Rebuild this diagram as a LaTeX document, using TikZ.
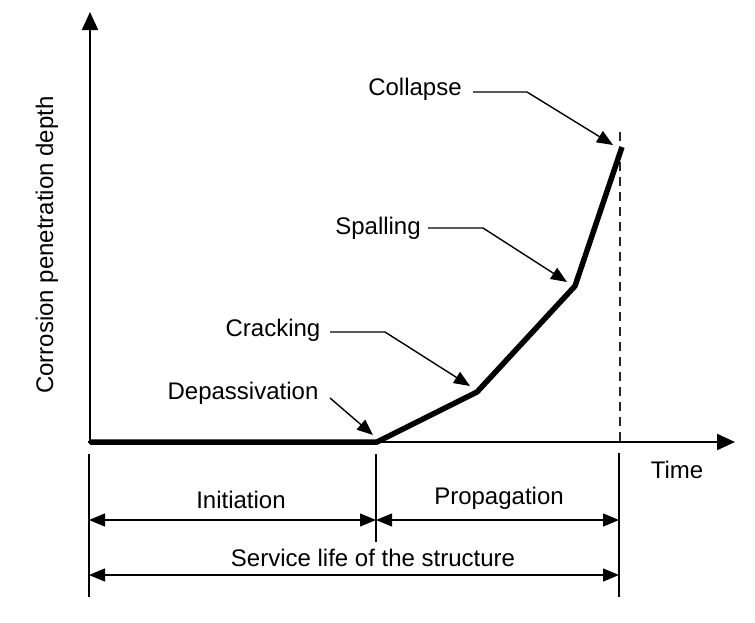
\documentclass[tikz,border=0pt]{standalone}
\usepackage{fontspec}
\setmainfont{Liberation Sans}
\usetikzlibrary{arrows.meta}
\begin{document}
\begin{tikzpicture}[x=1pt,y=-1pt,
  font=\fontsize{24}{28}\selectfont,
  axisline/.style={line width=2.2pt,-{Triangle[length=18pt,width=16pt]}},
  curveline/.style={line width=5.5pt,line join=miter},
  leader/.style={line width=1.4pt,-{Triangle[length=16pt,width=13pt]}},
  dimline/.style={line width=1.2pt,{Triangle[length=16pt,width=13pt]}-{Triangle[length=16pt,width=13pt]}},
  tickline/.style={line width=1.4pt},
  lbl/.style={inner sep=0pt,anchor=center}]
\useasboundingbox (0,0) rectangle (755,622);
% key points
\coordinate (O) at (90,442);
\coordinate (ytip) at (90,12);
\coordinate (xstart) at (88,442);
\coordinate (xtip) at (735,442);
\coordinate (D) at (377,442);
\coordinate (C) at (477,392);
\coordinate (S) at (575,286);
\coordinate (E) at (622,147);
% dashed line at collapse
\coordinate (dtop) at (620,132);
\coordinate (dbot) at (620,442);
% axes
\draw[axisline] (90,444) -- (ytip);
\draw[axisline] (xstart) -- (xtip);
\draw[line width=1.3pt,dash pattern=on 9pt off 6pt,black!85] (dtop) -- (dbot);
% curve
\draw[curveline] (O) -- (D) -- (C) -- (S) -- (E);
% labels
\node[lbl] (ylab) at (47,245) [rotate=90] {Corrosion penetration depth};
\node[lbl] (time) at (677,470) {Time};
\node[lbl] (collapse) at (415,89) {Collapse};
\node[lbl] (spalling) at (378,228) {Spalling};
\node[lbl] (cracking) at (273,330) {Cracking};
\node[lbl] (depass) at (243,393) {Depassivation};
% leaders
\coordinate (cl1) at (473,92); \coordinate (cl2) at (527,92); \coordinate (cl3) at (613,145);
\coordinate (sp1) at (428,228); \coordinate (sp2) at (483,228); \coordinate (sp3) at (567,282);
\coordinate (cr1) at (330,332); \coordinate (cr2) at (385,332); \coordinate (cr3) at (470,386);
\coordinate (dp1) at (330,398); \coordinate (dp3) at (373,435);
\draw[leader] (cl1) -- (cl2) -- (cl3);
\draw[leader] (sp1) -- (sp2) -- (sp3);
\draw[leader] (cr1) -- (cr2) -- (cr3);
\draw[leader] (dp1) -- (dp3);
% ticks
\coordinate (t1a) at (89,454); \coordinate (t1b) at (89,597);
\coordinate (t2a) at (376,454); \coordinate (t2b) at (376,542);
\coordinate (t3a) at (619,453); \coordinate (t3b) at (619,597);
\draw[tickline] (t1a) -- (t1b);
\draw[tickline] (t2a) -- (t2b);
\draw[tickline] (t3a) -- (t3b);
% dimension arrows
\coordinate (a1l) at (89,520); \coordinate (a1m) at (376,520); \coordinate (a1r) at (619,520);
\coordinate (a2l) at (89,575); \coordinate (a2r) at (619,575);
\draw[dimline] (a1l) -- (a1m);
\draw[dimline] (a1m) -- (a1r);
\draw[dimline] (a2l) -- (a2r);
\node[lbl] (init) at (241,500) {Initiation};
\node[lbl] (prop) at (499,498) {Propagation};
\node[lbl] (serv) at (373,558) {Service life of the structure};
\end{tikzpicture}
\end{document}
